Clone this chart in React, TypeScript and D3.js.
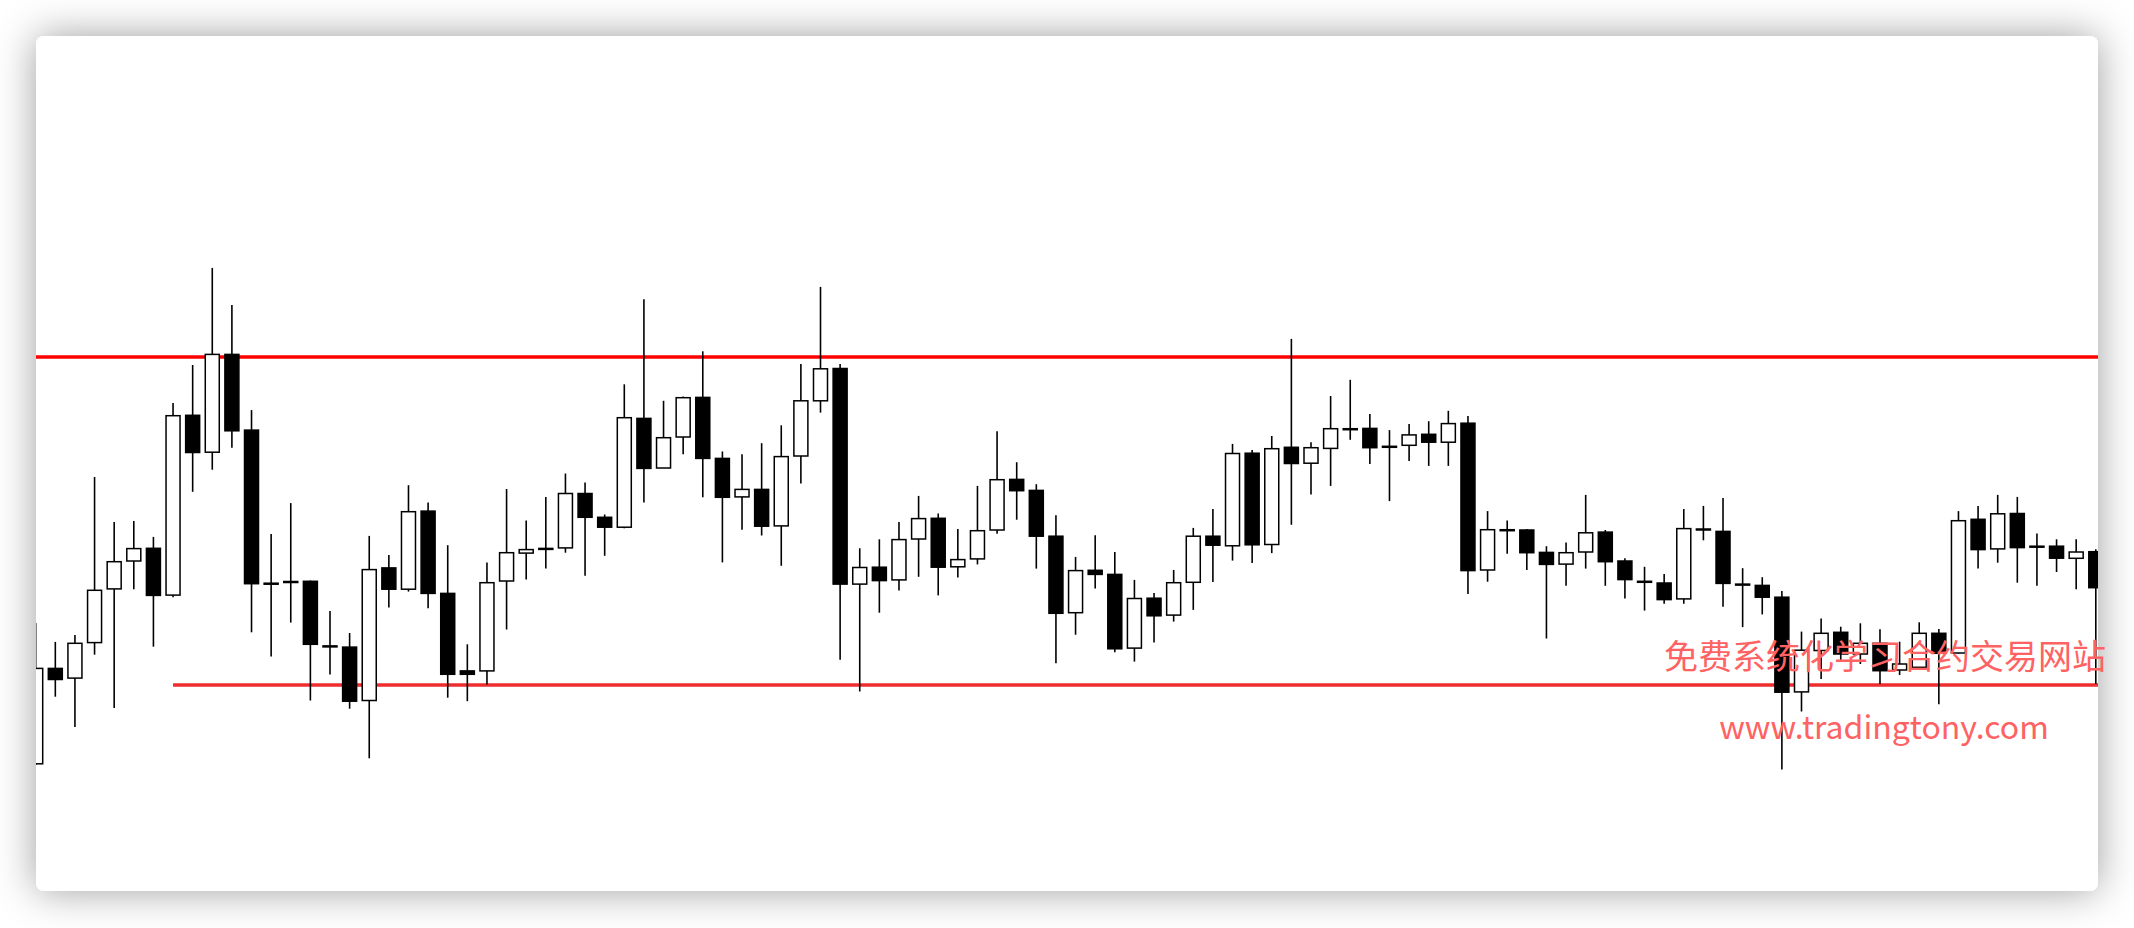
import React from "react";
import * as d3 from "d3";

// Candle data (price points), left to right
const opens = [236.2, 331.6, 321.9, 357.4, 411.1, 439.0, 451.7, 404.9, 584.7, 547.8, 645.6, 569.9, 416.8, 418.5, 418.7, 354.1, 352.9, 299.5, 432.1, 410.8,
  488.9, 406.6, 329.1, 329.1, 419.0, 446.9, 451.6, 452.1, 506.5, 482.7, 472.8, 581.6, 532.0, 563.0, 602.6, 541.6, 503.1, 510.6, 474.1, 544.0,
  599.2, 631.5, 415.9, 432.8, 420.1, 461.0, 481.7, 433.2, 441.1, 470.0, 520.6, 509.6, 463.8, 387.3, 429.7, 425.6, 351.9, 401.8, 384.9, 417.7,
  463.8, 454.2, 546.8, 455.5, 552.7, 536.8, 551.6, 571.3, 571.6, 553.7, 554.7, 565.7, 557.8, 576.8, 430.0, 470.3, 470.0, 447.6, 435.9, 448.0,
  467.9, 439.0, 418.7, 417.0, 401.1, 471.0, 468.6, 415.9, 414.6, 402.8, 308.1, 349.5, 367.7, 346.0, 356.7, 330.0, 332.7, 366.7, 347.0, 480.7,
  451.1, 486.5, 453.8, 453.8, 441.7, 448.3];
const highs = [377.0, 358.1, 365.0, 523.0, 477.9, 479.0, 463.1, 597.1, 635.0, 732.1, 694.9, 589.9, 465.9, 496.9, 419.5, 389.1, 367.0, 464.1, 444.9, 514.8,
  497.6, 454.8, 355.7, 437.6, 511.0, 479.6, 503.1, 526.5, 517.5, 485.5, 615.7, 700.8, 599.2, 603.6, 648.7, 548.5, 545.8, 556.8, 574.7, 636.0,
  713.1, 636.0, 451.7, 460.7, 477.9, 504.1, 486.5, 471.0, 514.1, 568.8, 537.8, 515.8, 484.8, 443.1, 464.8, 448.0, 420.1, 407.0, 430.0, 472.1,
  491.0, 556.1, 549.9, 564.0, 661.1, 557.8, 604.0, 620.2, 586.1, 569.9, 576.1, 578.8, 589.2, 584.0, 488.9, 479.6, 471.0, 453.8, 457.6, 505.1,
  470.0, 441.8, 433.2, 425.9, 491.0, 494.1, 502.0, 431.8, 422.8, 409.0, 368.4, 381.5, 373.3, 376.7, 370.7, 358.3, 377.7, 371.0, 488.9, 494.1,
  505.1, 503.1, 466.6, 460.7, 460.7, 450.7];
const lows = [235.0, 303.3, 273.0, 345.3, 291.9, 410.8, 353.3, 402.8, 508.2, 530.3, 552.3, 367.7, 343.6, 377.4, 299.5, 325.4, 291.3, 241.7, 392.5, 408.4,
  391.8, 302.3, 298.8, 315.4, 370.5, 420.4, 431.4, 447.3, 424.2, 444.2, 471.7, 497.6, 532.0, 545.8, 502.7, 437.6, 470.3, 464.5, 434.2, 516.5,
  587.4, 340.2, 308.5, 387.3, 409.4, 423.2, 404.6, 422.5, 435.6, 466.2, 480.3, 431.4, 336.7, 365.3, 411.5, 347.7, 338.4, 357.4, 378.4, 390.1,
  418.0, 439.4, 436.9, 446.9, 475.2, 505.5, 514.1, 560.2, 536.1, 498.9, 538.9, 534.1, 534.1, 405.9, 418.3, 446.2, 430.0, 361.5, 414.2, 431.4,
  414.2, 401.5, 389.4, 396.3, 396.3, 459.7, 393.2, 372.9, 385.6, 230.6, 288.5, 320.9, 340.0, 336.0, 316.0, 325.0, 332.7, 295.7, 346.4, 431.4,
  437.3, 417.3, 414.2, 428.0, 410.7, 316.0];
const closes = [331.6, 320.5, 356.7, 409.7, 438.3, 451.4, 404.6, 584.3, 547.5, 645.6, 569.2, 416.3, 416.4, 418.1, 355.7, 353.7, 298.8, 430.4, 410.8, 488.3,
  406.6, 325.7, 325.7, 417.3, 447.3, 450.4, 451.4, 506.5, 482.7, 472.8, 582.3, 531.6, 562.3, 602.3, 541.6, 502.7, 510.6, 473.8, 543.4, 599.2,
  631.2, 415.9, 432.5, 419.4, 460.4, 481.4, 432.8, 440.4, 469.3, 520.3, 509.3, 463.8, 386.7, 429.4, 425.6, 351.2, 401.5, 384.2, 417.3, 463.8,
  454.8, 546.5, 455.2, 551.3, 536.5, 552.3, 571.3, 571.3, 552.3, 553.7, 565.1, 557.8, 576.4, 429.4, 470.3, 470.3, 447.3, 435.6, 447.3, 467.2,
  438.3, 420.4, 418.7, 400.4, 471.4, 471.0, 416.6, 415.9, 402.8, 307.8, 349.8, 366.7, 346.0, 356.7, 329.3, 336.0, 366.7, 346.7, 479.3, 450.4,
  486.2, 452.4, 453.8, 441.8, 448.0, 412.3];
const bars = opens.map((_, i) => String(i));

const resistance = 643;
const support = 315;
const supportStart = 7; // bar index where support line begins

const watermarkCN = "免费系统化学习合约交易网站";
const watermarkURL = "www.tradingtony.com";

export default function App() {
  const W = 2134, H = 928;
  const card = { x: 36, y: 36, w: 2062, h: 855 };
  const x = d3.scalePoint<string>().domain(bars).range([35.7, 2095.8]);
  const y = d3.scaleLinear().domain([750, 200]).range([250, 800]);
  const bodyW = 14;

  return (
    <div style={{ position: "absolute", left: 0, top: 0, width: W, height: H, background: "#ffffff" }}>
      <svg width={W} height={H} style={{ display: "block" }}>
        <defs>
          <filter id="shadow" x="-10%" y="-20%" width="120%" height="140%">
            <feDropShadow dx="0" dy="0" stdDeviation="20" floodColor="#000" floodOpacity="0.38" />
          </filter>
          <clipPath id="cardClip">
            <rect x={card.x} y={card.y} width={card.w} height={card.h} rx={8} />
          </clipPath>
        </defs>
        <rect x={0} y={0} width={W} height={H} fill="#ffffff" />
        <rect x={card.x} y={card.y} width={card.w} height={card.h} rx={8} fill="#ffffff" filter="url(#shadow)" />
        <g clipPath="url(#cardClip)">
          <line x1={card.x} x2={card.x + card.w} y1={y(resistance)} y2={y(resistance)} stroke="#ff0000" strokeWidth={3.3} />
          <line x1={x(String(supportStart)) as number} x2={card.x + card.w} y1={y(support)} y2={y(support)} stroke="#ee2e2e" strokeWidth={3.3} />
          {bars.map((b, i) => {
            const cx = x(b) as number;
            const o = opens[i], c = closes[i];
            const up = c > o;
            const top = y(Math.max(o, c));
            const bot = y(Math.min(o, c));
            const hgt = Math.max(bot - top, 1);
            return (
              <g key={b}>
                <line x1={cx} x2={cx} y1={y(highs[i])} y2={y(lows[i])} stroke="#000" strokeWidth={1.6} />
                <rect x={cx - bodyW / 2} y={top} width={bodyW} height={hgt}
                  fill={up ? "#ffffff" : "#000000"} stroke="#000" strokeWidth={1.5} />
              </g>
            );
          })}
        </g>
        <text x={1885} y={669} textAnchor="middle" fontFamily="'Noto Sans CJK SC', 'Noto Sans', sans-serif"
          fontSize={34} fill="#ff6262">{watermarkCN}</text>
        <text x={1884} y={739} textAnchor="middle" fontFamily="'Noto Sans CJK SC', 'Noto Sans', sans-serif"
          fontSize={32} fill="#ff6262">{watermarkURL}</text>
      </svg>
    </div>
  );
}
